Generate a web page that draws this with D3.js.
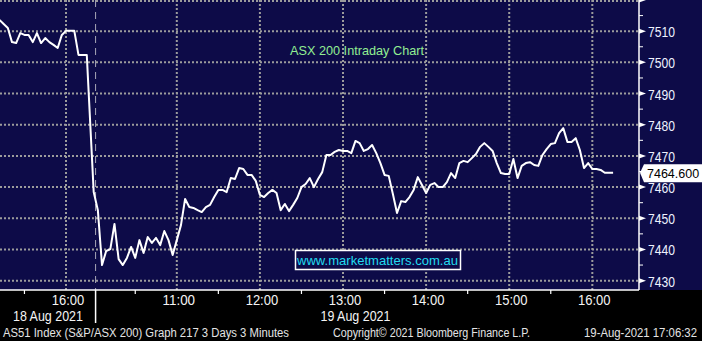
<!DOCTYPE html>
<html>
<head>
<meta charset="utf-8">
<script src="https://cdn.jsdelivr.net/npm/d3@7"></script>
<style>
  body { margin: 0; background: #000; }
  svg { display: block; }
  text { font-family: 'Liberation Sans', Arial, sans-serif; }
</style>
</head>
<body>
<div class="canvas"></div>
<script>
// ASX 200 intraday, 3 minute bars (18 Aug tail + 19 Aug session)
var barMinutes = 3;
var aug18Start = '15:12';
var aug18Values = [7513.6, 7512.3, 7511.0, 7506.5, 7506.2, 7509.4, 7508.8, 7508.8, 7506.5, 7509.4,
  7506.2, 7507.8, 7506.5, 7505.6, 7504.6, 7508.8, 7510.1, 7510.1, 7510.1, 7502.4, 7502.4, 7502.4];
var aug19Start = '10:00';
var aug19Values = [7458.4, 7452.6, 7435.0, 7439.5, 7440.1, 7448.2, 7436.9, 7435.0, 7437.3, 7440.8,
  7437.3, 7443.0, 7438.9, 7444.0, 7442.1, 7443.7, 7441.4, 7445.9, 7443.0, 7438.2,
  7443.0, 7447.8, 7456.2, 7453.6, 7453.3, 7452.6, 7452.0, 7453.6, 7454.3, 7456.8,
  7459.1, 7459.1, 7458.4, 7462.9, 7462.6, 7466.1, 7465.8, 7463.9, 7463.9, 7462.0,
  7457.5, 7456.8, 7458.1, 7459.1, 7458.1, 7452.6, 7454.6, 7452.3, 7454.3, 7456.5,
  7460.0, 7461.0, 7462.9, 7460.0, 7462.6, 7464.8, 7470.3, 7470.3, 7471.3, 7471.9,
  7471.6, 7471.6, 7470.9, 7474.8, 7474.1, 7471.6, 7472.2, 7473.5, 7470.9, 7467.7,
  7463.9, 7463.6, 7457.8, 7451.7, 7455.5, 7455.2, 7456.8, 7459.1, 7463.2, 7460.7,
  7458.1, 7460.7, 7461.3, 7460.0, 7460.0, 7461.6, 7464.5, 7462.9, 7467.7, 7468.4,
  7468.0, 7469.3, 7470.6, 7472.9, 7474.1, 7472.9, 7471.6, 7467.7, 7464.5, 7464.2,
  7464.2, 7469.0, 7462.9, 7466.8, 7467.7, 7468.0, 7467.1, 7466.8, 7470.3, 7472.2,
  7473.8, 7474.1, 7477.3, 7478.9, 7474.5, 7474.5, 7475.7, 7471.9, 7466.1, 7467.7,
  7465.8, 7465.8, 7465.5, 7464.6, 7464.6, 7464.6];
var lastPrice = 7464.6;

var yGridValues = [7430, 7440, 7450, 7460, 7470, 7480, 7490, 7500, 7510, 7520];
var yMinorValues = [7435, 7445, 7455, 7465, 7475, 7485, 7495, 7505, 7515];
var yLabelValues = [7430, 7440, 7450, 7460, 7470, 7480, 7490, 7500, 7510];

var hourTickDays = [18, 19, 19, 19, 19, 19, 19];
var hourTickTimes = ['16:00', '11:00', '12:00', '13:00', '14:00', '15:00', '16:00'];
var halfTickDays = [18, 19, 19, 19, 19, 19, 19];
var halfTickTimes = ['15:30', '10:30', '11:30', '12:30', '13:30', '14:30', '15:30'];
var dateLabels = ['18 Aug 2021', '19 Aug 2021'];
var dateLabelDays = [18, 19];
var dateLabelTimes = ['15:47', '13:09'];
var dayBreak = { day: 19, time: '10:01' };

var title = 'ASX 200 Intraday Chart';
var watermark = 'www.marketmatters.com.au';
var footLeft = 'AS51 Index (S&P/ASX 200) Graph 217 3 Days 3 Minutes';
var footMid = 'Copyright\u00a9 2021 Bloomberg Finance L.P.';
var footRight = '19-Aug-2021 17:06:32';

var width = 702, height = 341;
var plotRight = 639, plotBottom = 290;
var navy = '#0d0b48', grid = '#9c9c9c';

function mins(hhmm) {
  var p = hhmm.split(':');
  return +p[0] * 60 + +p[1];
}
// chart minutes: 18 Aug measured from 16:00, 19 Aug starts 20 min after (gap removed)
function chartTime(day, hhmm) {
  return day === 18 ? mins(hhmm) - mins('16:00') : 20 + mins(hhmm) - mins('10:00');
}

var data = [];
aug18Values.forEach(function(v, i) {
  data.push({ t: chartTime(18, aug18Start) + i * barMinutes, v: v });
});
aug19Values.forEach(function(v, i) {
  data.push({ t: chartTime(19, aug19Start) + i * barMinutes, v: v });
});

var xscale = d3.scaleLinear().domain([-47.65, 413.7]).range([0, plotRight]);
var yscale = d3.scaleLinear().domain([7427, 7520]).range([plotBottom, 0]);

var svg = d3.select('.canvas')
  .append('svg')
  .attr('width', width)
  .attr('height', height);

svg.append('rect').attr('width', width).attr('height', height).attr('fill', '#000');
svg.append('rect').attr('width', width).attr('height', plotBottom).attr('fill', navy);

// grid
svg.append('g').selectAll('line')
  .data(yGridValues).enter().append('line')
  .attr('x1', 0).attr('x2', plotRight)
  .attr('y1', function(d) { return Math.max(1, yscale(d)); })
  .attr('y2', function(d) { return Math.max(1, yscale(d)); })
  .attr('stroke', grid).attr('stroke-width', 2).attr('stroke-dasharray', '2,2');

svg.append('g').selectAll('line')
  .data(hourTickTimes).enter().append('line')
  .attr('x1', function(d, i) { return xscale(chartTime(hourTickDays[i], d)); })
  .attr('x2', function(d, i) { return xscale(chartTime(hourTickDays[i], d)); })
  .attr('y1', 0).attr('y2', plotBottom)
  .attr('stroke', grid).attr('stroke-width', 2).attr('stroke-dasharray', '2,2');

// day separator
var xBreak = xscale(chartTime(dayBreak.day, dayBreak.time)) + 0.5;
svg.append('line')
  .attr('x1', xBreak).attr('x2', xBreak).attr('y1', 0).attr('y2', plotBottom)
  .attr('stroke', '#a8a8b8').attr('stroke-width', 1).attr('stroke-dasharray', '7,5');
svg.append('line')
  .attr('x1', xBreak).attr('x2', xBreak).attr('y1', plotBottom).attr('y2', 323)
  .attr('stroke', '#fff').attr('stroke-width', 1.5);

// title
svg.append('text')
  .attr('x', 290).attr('y', 55)
  .attr('textLength', 134).attr('lengthAdjust', 'spacingAndGlyphs')
  .attr('font-size', '13.5px').attr('fill', '#92ee92')
  .text(title);

// watermark box
svg.append('rect')
  .attr('x', 295.5).attr('y', 250.5).attr('width', 165).attr('height', 19)
  .attr('fill', navy).attr('stroke', '#fff').attr('stroke-width', 1.5);
svg.append('text')
  .attr('x', 297).attr('y', 265)
  .attr('textLength', 161).attr('lengthAdjust', 'spacingAndGlyphs')
  .attr('font-size', '13.5px').attr('fill', '#22dcf0')
  .text(watermark);

// price line
var line = d3.line()
  .x(function(d) { return xscale(d.t); })
  .y(function(d) { return yscale(d.v); });
svg.append('path')
  .datum(data)
  .attr('d', line)
  .attr('fill', 'none')
  .attr('stroke', '#fff')
  .attr('stroke-width', 2)
  .attr('stroke-linejoin', 'round');

// right axis
svg.append('line')
  .attr('x1', plotRight).attr('x2', plotRight).attr('y1', 0).attr('y2', plotBottom)
  .attr('stroke', '#fff').attr('stroke-width', 1.5);
svg.append('g').selectAll('path')
  .data(yGridValues).enter().append('path')
  .attr('d', function(d) {
    var y = yscale(d);
    return 'M' + plotRight + ',' + (y - 2.5) + 'L' + (plotRight + 7) + ',' + y + 'L' + plotRight + ',' + (y + 2.5) + 'Z';
  })
  .attr('fill', '#fff');
svg.append('g').selectAll('line')
  .data(yMinorValues).enter().append('line')
  .attr('x1', plotRight).attr('x2', plotRight + 4)
  .attr('y1', function(d) { return yscale(d); })
  .attr('y2', function(d) { return yscale(d); })
  .attr('stroke', '#fff').attr('stroke-width', 1);
svg.append('g').selectAll('text')
  .data(yLabelValues).enter().append('text')
  .attr('x', 648)
  .attr('y', function(d) { return yscale(d) + 6; })
  .attr('textLength', 27).attr('lengthAdjust', 'spacingAndGlyphs')
  .attr('font-size', '14.5px').attr('fill', '#eef2ff')
  .text(function(d) { return d; });

// last price tag
var yLast = yscale(lastPrice);
svg.append('path')
  .attr('d', 'M' + (plotRight + 1) + ',' + yLast + 'L' + (plotRight + 5) + ',' + (yLast - 8.5) +
    'L' + width + ',' + (yLast - 8.5) + 'L' + width + ',' + (yLast + 9.5) +
    'L' + (plotRight + 5) + ',' + (yLast + 9.5) + 'Z')
  .attr('fill', '#fff');
svg.append('text')
  .attr('x', 647).attr('y', yLast + 5)
  .attr('font-size', '12.5px').attr('fill', '#000')
  .text(d3.format('.3f')(lastPrice));

// bottom axis
svg.append('line')
  .attr('x1', 0).attr('x2', plotRight).attr('y1', plotBottom).attr('y2', plotBottom)
  .attr('stroke', '#fff').attr('stroke-width', 1.5);
svg.append('g').selectAll('line')
  .data(halfTickTimes).enter().append('line')
  .attr('x1', function(d, i) { return xscale(chartTime(halfTickDays[i], d)); })
  .attr('x2', function(d, i) { return xscale(chartTime(halfTickDays[i], d)); })
  .attr('y1', plotBottom).attr('y2', plotBottom + 4)
  .attr('stroke', '#fff').attr('stroke-width', 1.2);
svg.append('g').selectAll('text')
  .data(hourTickTimes).enter().append('text')
  .attr('x', function(d, i) { return xscale(chartTime(hourTickDays[i], d)) + 2; })
  .attr('y', 305)
  .attr('text-anchor', 'middle')
  .attr('textLength', 32.5).attr('lengthAdjust', 'spacingAndGlyphs')
  .attr('font-size', '14px').attr('fill', '#f4f4f4')
  .text(function(d) { return d; });
svg.append('g').selectAll('text')
  .data(dateLabels).enter().append('text')
  .attr('x', function(d, i) { return xscale(chartTime(dateLabelDays[i], dateLabelTimes[i])); })
  .attr('y', 320.5)
  .attr('text-anchor', 'middle')
  .attr('textLength', 70).attr('lengthAdjust', 'spacingAndGlyphs')
  .attr('font-size', '14px').attr('fill', '#f4f4f4')
  .text(function(d) { return d; });

// footer
svg.append('text').attr('x', 3).attr('y', 336.5)
  .attr('textLength', 286).attr('lengthAdjust', 'spacingAndGlyphs')
  .attr('font-size', '12px').attr('fill', '#e4e4e4').text(footLeft);
svg.append('text').attr('x', 333).attr('y', 336.5)
  .attr('textLength', 197).attr('lengthAdjust', 'spacingAndGlyphs')
  .attr('font-size', '12px').attr('fill', '#e4e4e4').text(footMid);
svg.append('text').attr('x', 584).attr('y', 336.5)
  .attr('textLength', 113).attr('lengthAdjust', 'spacingAndGlyphs')
  .attr('font-size', '12px').attr('fill', '#e4e4e4').text(footRight);
</script>
</body>
</html>
